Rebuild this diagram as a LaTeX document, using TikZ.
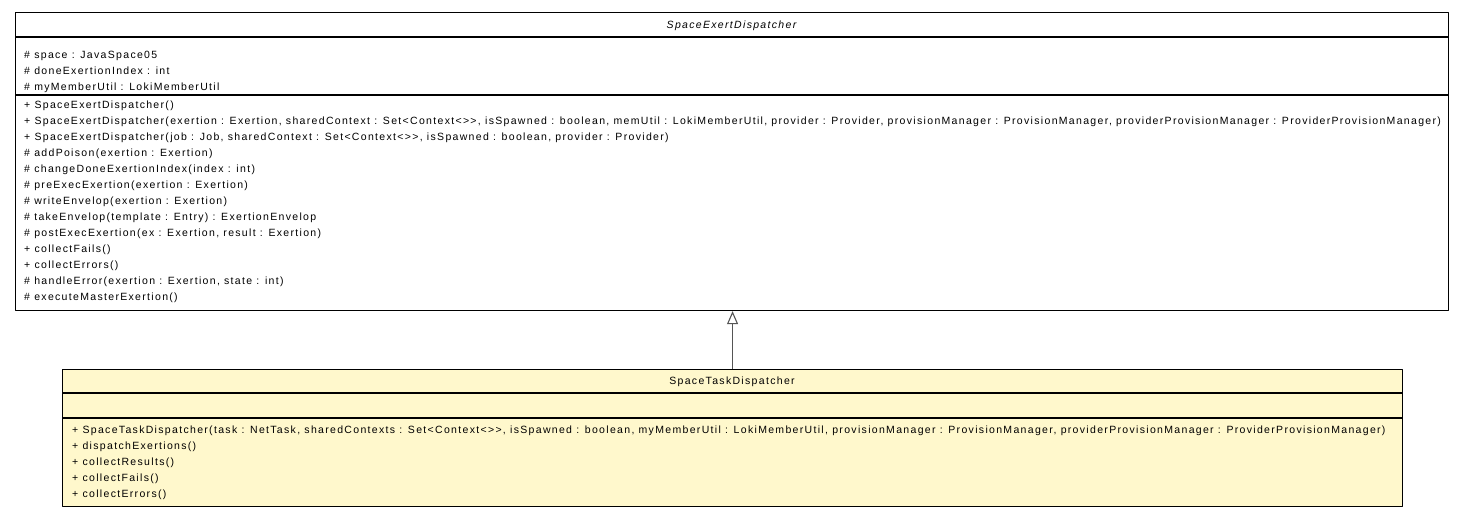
\documentclass[tikz,border=0pt]{standalone}
\usepackage{fontspec}
\setmainfont{Liberation Sans}[Ligatures=TeXOff,LetterSpace=12.6]
\usetikzlibrary{arrows.meta}
\definecolor{classfill}{HTML}{FFF8CC}
\definecolor{linkgray}{HTML}{555555}
\tikzset{
  classbox/.style={draw=black,line width=1.1pt,inner sep=0pt,anchor=north west},
  classname/.style={anchor=base,inner sep=0pt,font=\fontsize{10.5}{13}\selectfont},
  member/.style={anchor=base west,inner sep=0pt,font=\fontsize{10.5}{16}\selectfont},
  extends/.style={draw=linkgray,line width=1.1pt,-{Triangle[open,length=13pt,width=11pt]}}
}
\begin{document}
\begin{tikzpicture}[x=1pt,y=-1pt,line join=round]
\useasboundingbox (0,0) rectangle (1464,517);
% superclass
\node[classbox,minimum width=1433pt,minimum height=298pt] (exert) at (15,12) {};
\draw[line width=1.1pt] (15,37) -- (1448,37) (15,95) -- (1448,95);
\node[classname,font=\fontsize{10.5}{13}\selectfont\itshape] (exertname) at (731.5,28) {SpaceExertDispatcher};
\foreach \txt [count=\i from 0] in {
  {\# space : JavaSpace05},
  {\# doneExertionIndex : int},
  {\# myMemberUtil : LokiMemberUtil}}
  \node[member] (exertattr\i) at (24,58+16*\i) {\txt};
\foreach \txt [count=\i from 0] in {
  {+ SpaceExertDispatcher()},
  {+ SpaceExertDispatcher(exertion : Exertion, sharedContext : Set<Context<>>, isSpawned : boolean, memUtil : LokiMemberUtil, provider : Provider, provisionManager : ProvisionManager, providerProvisionManager : ProviderProvisionManager)},
  {+ SpaceExertDispatcher(job : Job, sharedContext : Set<Context<>>, isSpawned : boolean, provider : Provider)},
  {\# addPoison(exertion : Exertion)},
  {\# changeDoneExertionIndex(index : int)},
  {\# preExecExertion(exertion : Exertion)},
  {\# writeEnvelop(exertion : Exertion)},
  {\# takeEnvelop(template : Entry) : ExertionEnvelop},
  {\# postExecExertion(ex : Exertion, result : Exertion)},
  {+ collectFails()},
  {+ collectErrors()},
  {\# handleError(exertion : Exertion, state : int)},
  {\# executeMasterExertion()}}
  \node[member] (exertop\i) at (24,108+16*\i) {\txt};
% subclass
\node[classbox,fill=classfill,minimum width=1340pt,minimum height=137pt] (task) at (62,369) {};
\draw[line width=1.1pt] (62,393) -- (1402,393) (62,418) -- (1402,418);
\node[classname] (taskname) at (732,384.5) {SpaceTaskDispatcher};
\foreach \txt [count=\i from 0] in {
  {+ SpaceTaskDispatcher(task : NetTask, sharedContexts : Set<Context<>>, isSpawned : boolean, myMemberUtil : LokiMemberUtil, provisionManager : ProvisionManager, providerProvisionManager : ProviderProvisionManager)},
  {+ dispatchExertions()},
  {+ collectResults()},
  {+ collectFails()},
  {+ collectErrors()}}
  \node[member] (taskop\i) at (72,433+16*\i) {\txt};
% generalization
\draw[extends] (task.north) -- (task.north |- exert.south);
\end{tikzpicture}
\end{document}
